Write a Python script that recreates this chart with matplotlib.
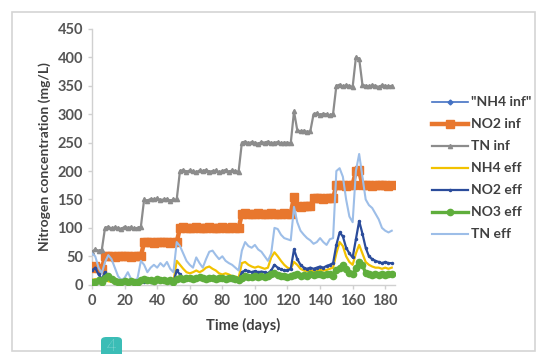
import matplotlib
matplotlib.use("Agg")
import matplotlib.pyplot as plt
from matplotlib.patches import Rectangle, FancyBboxPatch

days = list(range(0, 185, 2))

tn_inf = [58, 62, 60, 61,
          100, 102, 99, 101, 100, 98, 102, 100, 101, 99, 100, 102,
          150, 148, 151, 150, 152, 149, 150, 151, 148, 150, 150,
          200, 202, 199, 201, 200, 198, 201, 200, 202, 199, 200, 201, 198, 200, 202, 199, 201, 200, 199,
          250, 252, 249, 251, 250, 248, 251, 250, 252, 249, 250, 251, 249, 250, 250, 249,
          305, 272, 270, 271, 269, 270,
          300, 302, 299, 301, 300, 298, 301,
          350, 352, 349, 351, 350, 348,
          400, 398,
          352, 350, 349, 351, 350, 348, 351, 350, 349, 350]
no2_inf = [30, 33, 30, 28,
           50, 51, 50, 49, 50, 51, 50, 50, 49, 51, 50, 50,
           75, 76, 75, 74, 75, 76, 75, 75, 74, 76, 75,
           100, 101, 100, 99, 100, 101, 100, 100, 99, 101, 100, 100, 99, 101, 100, 100, 101, 100, 99,
           125, 126, 125, 124, 125, 126, 125, 125, 124, 126, 125, 125, 124, 126, 125, 125,
           155, 138, 137, 138, 139, 138,
           152, 153, 152, 151, 152, 153, 152,
           175, 176, 175, 174, 175, 176,
           200, 201,
           175, 176, 175, 174, 175, 176, 175, 175, 174, 175]
nh4_inf = list(no2_inf)
tn_eff = [55, 50, 30, 20, 40, 52, 45, 30, 15, 8, 12, 22, 10, 5, 12, 42, 35, 22, 30, 35,
          30, 38, 32, 40, 28, 22, 75, 68, 55, 42, 35, 30, 48, 38, 30, 45, 58, 60, 52, 45,
          50, 42, 38, 35, 30, 25, 60, 75, 68, 65, 70, 62, 58, 50, 42, 55, 100, 98, 88, 82,
          80, 78, 137, 110, 95, 88, 82, 78, 72, 75, 82, 75, 70, 80, 82, 200, 205, 190, 150, 120,
          110, 200, 230, 190, 150, 140, 135, 125, 115, 100, 95, 92, 95]
no2_eff = [25, 30, 18, 10, 22, 15, 8, 5, 5, 3, 5, 6, 4, 3, 5, 6, 5, 6, 5, 8,
           6, 7, 6, 8, 5, 4, 25, 18, 12, 10, 12, 10, 12, 11, 10, 12, 13, 15, 12, 11,
           10, 12, 10, 9, 8, 8, 22, 25, 24, 22, 24, 22, 23, 22, 20, 25, 35, 30, 27, 25,
           25, 28, 62, 45, 35, 30, 28, 30, 28, 30, 32, 30, 33, 35, 38, 70, 92, 85, 65, 55,
           48, 80, 112, 90, 65, 50, 45, 42, 40, 38, 40, 38, 38]
nh4_eff = [8, 10, 6, 5, 8, 6, 5, 4, 4, 3, 4, 5, 4, 3, 4, 5, 5, 6, 5, 6,
           5, 6, 5, 6, 5, 5, 42, 35, 28, 22, 20, 22, 25, 22, 25, 30, 32, 28, 25, 20,
           18, 20, 18, 15, 14, 12, 38, 40, 35, 32, 30, 32, 30, 28, 30, 48, 57, 50, 42, 35,
           30, 28, 40, 35, 28, 25, 24, 25, 24, 25, 26, 25, 26, 28, 30, 55, 75, 68, 50, 40,
           35, 55, 70, 55, 40, 35, 32, 30, 30, 28, 30, 28, 30]
no3_eff = [5, 4, 8, 5, 12, 15, 10, 6, 5, 4, 6, 5, 7, 5, 4, 8, 10, 8, 9, 7,
           10, 8, 9, 7, 8, 5, 10, 12, 10, 11, 12, 10, 11, 13, 12, 10, 12, 11, 10, 12,
           11, 10, 12, 11, 10, 8, 12, 15, 14, 13, 15, 14, 16, 14, 15, 18, 20, 17, 15, 16,
           14, 15, 17, 18, 15, 17, 16, 18, 17, 19, 18, 17, 19, 18, 16, 25, 30, 35, 28, 20,
           18, 30, 40, 35, 20, 18, 17, 18, 17, 18, 17, 18, 18]

labels = ['"NH4 inf"', 'NO2 inf', 'TN inf', 'NH4 eff', 'NO2 eff', 'NO3 eff', 'TN eff']
y_ticks = [0, 50, 100, 150, 200, 250, 300, 350, 400, 450]
x_ticks = [0, 20, 40, 60, 80, 100, 120, 140, 160, 180]

plt.rcParams['font.family'] = ['Lato', 'DejaVu Sans']

fig = plt.figure(figsize=(5.37, 3.54), dpi=100)
fig.patch.set_facecolor('white')
# outer chart frame
fig.patches.append(Rectangle((12/537, 1-351/354), (535-12)/537, (351-12)/354,
                             transform=fig.transFigure, fill=False,
                             edgecolor='#D4D4D4', linewidth=1.2))
ax = fig.add_axes([92/537, 1-284.7/354, (395-92)/537, (284.7-29)/354])

ax.plot(days, nh4_inf, color='#4472C4', lw=1.2, marker='D', ms=2.5, label=labels[0], zorder=2)
ax.plot(days, no2_inf, color='#E8772E', lw=3.2, marker='s', ms=5.5, label=labels[1], zorder=3)
ax.plot(days, tn_inf, color='#8C8C8C', lw=1.6, marker='^', ms=3, label=labels[2], zorder=3)
ax.plot(days, nh4_eff, color='#F2C200', lw=1.6, label=labels[3], zorder=4)
ax.plot(days, no2_eff, color='#2B4C9B', lw=1.6, marker='.', ms=3, label=labels[4], zorder=5)
ax.plot(days, no3_eff, color='#5FAE3C', lw=2.4, marker='o', ms=4.5, label=labels[5], zorder=6)
ax.plot(days, tn_eff, color='#9DBEE8', lw=1.5, label=labels[6], zorder=4)

ax.set_xlim(0, 186)
ax.set_ylim(0, 450)
ax.set_xticks(x_ticks)
ax.set_yticks(y_ticks)
for s in ['top', 'right']:
    ax.spines[s].set_visible(False)
for s in ['left', 'bottom']:
    ax.spines[s].set_color('#D0D0D0')
    ax.spines[s].set_linewidth(1)
ax.tick_params(axis='both', colors='#D0D0D0', labelcolor='#555555', labelsize=10.5,
               length=3, width=1, direction='out')
for t in ax.get_xticklabels() + ax.get_yticklabels():
    t.set_fontweight('bold')
ax.set_xlabel('Time (days)', fontsize=10.5, fontweight='bold', color='#404040', labelpad=7)
ax.set_ylabel('Nitrogen concentration (mg/L)', fontsize=10, fontweight='bold', color='#404040', labelpad=5)

leg = ax.legend(loc='upper left', bbox_to_anchor=(1.08, 0.785), frameon=False,
                fontsize=10, handlelength=2.6, labelspacing=0.72, handletextpad=0.2)
for t in leg.get_texts():
    t.set_color('#404040')
    t.set_fontweight('bold')

# teal badge
badge = FancyBboxPatch((101/537, -0.02), 21/537, (354-337)/354 + 0.02,
                       boxstyle='round,pad=0,rounding_size=0.01',
                       transform=fig.transFigure, facecolor='#3BBDB6', edgecolor='none')
fig.patches.append(badge)
fig.text(111.5/537, 1-346/354, '4', color='white', fontsize=12, ha='center', va='center',
         fontweight='light')

fig.savefig('out.png', dpi=100)
